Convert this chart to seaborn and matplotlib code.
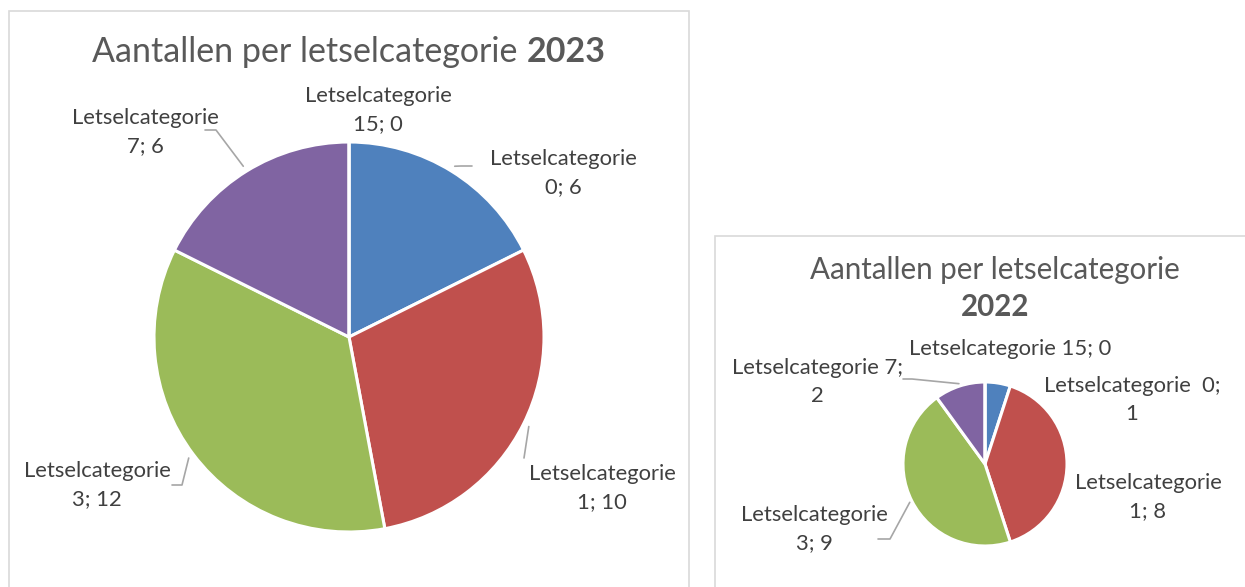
import numpy as np
import matplotlib
matplotlib.use("Agg")
import matplotlib.pyplot as plt
import seaborn as sns
from matplotlib.patches import Rectangle
from matplotlib.lines import Line2D

# ---------------- data ----------------
categories = ["Letselcategorie 0", "Letselcategorie 1", "Letselcategorie 3",
              "Letselcategorie 7", "Letselcategorie 15"]
values_2023 = [6, 10, 12, 6, 0]
values_2022 = [1, 8, 9, 2, 0]
label_2023 = ["Letselcategorie\n0; 6", "Letselcategorie\n1; 10", "Letselcategorie\n3; 12",
              "Letselcategorie\n7; 6", "Letselcategorie\n15; 0"]
label_2022 = ["Letselcategorie  0;\n1", "Letselcategorie\n1; 8", "Letselcategorie\n3; 9",
              "Letselcategorie 7;\n2", "Letselcategorie 15; 0"]
title_main = "Aantallen per letselcategorie"
years = ["2023", "2022"]

# ---------------- style ----------------
sns.set_theme(style="white")
plt.rcParams['font.family'] = ['Lato', 'DejaVu Sans']
colors = sns.color_palette(["#4F81BD", "#C0504D", "#9BBB59", "#8064A2", "#F79646"])
TITLE_C = "#595959"
LABEL_C = "#404040"
LEAD_C = "#A6A6A6"

W, H = 1245, 587
fig = plt.figure(figsize=(W / 100, H / 100), dpi=100)
fig.patch.set_facecolor("white")
renderer = fig.canvas.get_renderer()


def fx(px):
    return px / W


def fy(py):
    return 1 - py / H


def text_width(s, size, weight="normal"):
    t = fig.text(0, 0, s, fontsize=size, fontweight=weight)
    w = t.get_window_extent(renderer).width
    t.remove()
    return w


# label font size chosen so "Letselcategorie" is ~147 px wide
lab_size = 10 * 147 / text_width("Letselcategorie", 10)

# chart frames
fig.patches.append(Rectangle((fx(9), fy(600)), fx(680), (600 - 11) / H,
                             transform=fig.transFigure, fill=False,
                             edgecolor="#D9D9D9", lw=1.2))
fig.patches.append(Rectangle((fx(715), fy(600)), fx(560), (600 - 236) / H,
                             transform=fig.transFigure, fill=False,
                             edgecolor="#D9D9D9", lw=1.2))


def draw_title(cx, cy_lines, parts, target_w):
    """parts: list of lines, each line list of (text, weight)."""
    base = 20
    w0 = sum(text_width(t, base, wt) for t, wt in parts[0])
    size = base * target_w / w0
    for (line, cy) in zip(parts, cy_lines):
        widths = [text_width(t, size, wt) for t, wt in line]
        x = cx - sum(widths) / 2
        for (t, wt), w in zip(line, widths):
            fig.text(fx(x), fy(cy), t, fontsize=size, fontweight=wt,
                     color=TITLE_C, ha="left", va="center")
            x += w


def draw_pie(cx, cy, r, values, labels, label_pos, leaders):
    ax = fig.add_axes([fx(cx - r), fy(cy + r), 2 * r / W, 2 * r / H])
    wedges, _ = ax.pie(values, colors=colors[:len(values)], startangle=90,
                       counterclock=False, radius=1,
                       wedgeprops=dict(edgecolor="white", linewidth=2.2))
    ax.set_xlim(-1, 1)
    ax.set_ylim(-1, 1)
    ax.axis("off")
    for lab, (px, py) in zip(labels, label_pos):
        fig.text(fx(px), fy(py), lab, fontsize=lab_size, color=LABEL_C,
                 ha="center", va="center", linespacing=1.45)
    for i, pts in leaders.items():
        wdg = wedges[i]
        mid = np.deg2rad((wdg.theta1 + wdg.theta2) / 2)
        # pie end of the leader, just outside the wedge edge
        ex = cx + r * 1.03 * np.cos(mid)
        ey = cy - r * 1.03 * np.sin(mid)
        xs = [p[0] for p in pts] + [ex]
        ys = [p[1] for p in pts] + [ey]
        fig.lines.append(Line2D([fx(x) for x in xs], [fy(y) for y in ys],
                                transform=fig.transFigure, color=LEAD_C, lw=1.2))
    return ax


# ---------------- 2023 ----------------
draw_title(349, [52], [[(title_main + " ", "normal"), (years[0], "bold")]], 515)
draw_pie(349, 337, 195, values_2023, label_2023,
         [(563, 173), (602, 488), (97, 485), (145, 132), (378, 110)],
         {0: [(472, 166), (461, 166)],
          1: [(524, 458)],
          2: [(172, 485), (182, 485)],
          3: [(205, 130), (216, 130)]})

# ---------------- 2022 ----------------
draw_title(995, [270, 307], [[(title_main, "normal")], [(years[1], "bold")]], 371)
draw_pie(985, 464, 82, values_2022, label_2022,
         [(1132, 400), (1148, 497), (814, 529), (817, 382), (1010, 349)],
         {2: [(878, 539), (890, 539)],
          3: [(903, 379), (912, 379)]})

fig.savefig("out.png", dpi=100, facecolor="white")
